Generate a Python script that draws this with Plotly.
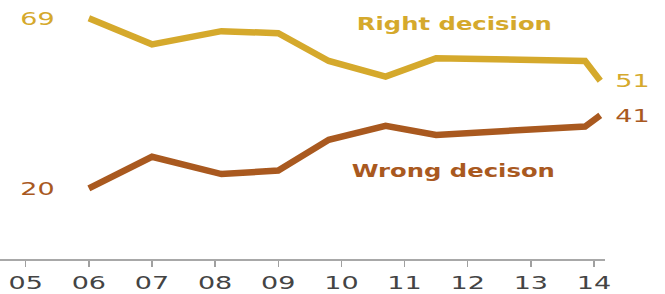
import plotly.graph_objects as go

# Survey dates (decimal years) and shares (%)
dates = [2006.0, 2007.0, 2008.1, 2009.0, 2009.8, 2010.7, 2011.5, 2013.86, 2014.1]
right_decision = [69, 61.5, 65.3, 64.7, 56.7, 52.2, 57.5, 56.7, 51]
wrong_decision = [20, 29.1, 24.1, 25.1, 34, 38, 35.4, 37.8, 41]
tick_years = [2005, 2006, 2007, 2008, 2009, 2010, 2011, 2012, 2013, 2014]
tick_labels = ["05", "06", "07", "08", "09", "10", "11", "12", "13", "14"]

GOLD = "#D5A92C"
BROWN = "#A9591F"
FONT = "DejaVu Sans"

fig = go.Figure()
fig.add_trace(go.Scatter(x=dates, y=right_decision, mode="lines",
                         line=dict(color=GOLD, width=6.5), hoverinfo="skip"))
fig.add_trace(go.Scatter(x=dates, y=wrong_decision, mode="lines",
                         line=dict(color=BROWN, width=6.5), hoverinfo="skip"))

anns = [
    dict(x=dates[0], y=right_decision[0], text=str(right_decision[0]),
         xshift=-51, font=dict(color=GOLD, size=18, family=FONT)),
    dict(x=dates[0], y=wrong_decision[0], text=str(wrong_decision[0]),
         xshift=-51, font=dict(color=BROWN, size=18, family=FONT)),
    dict(x=dates[-1], y=right_decision[-1], text=str(right_decision[-1]),
         xshift=32, font=dict(color=GOLD, size=18, family=FONT)),
    dict(x=dates[-1], y=wrong_decision[-1], text=str(wrong_decision[-1]),
         xshift=32, font=dict(color=BROWN, size=18, family=FONT)),
    dict(x=2011.787, y=67.6, text="<b>Right decision</b>",
         font=dict(color=GOLD, size=18, family=FONT)),
    dict(x=2011.773, y=25.1, text="<b>Wrong decison</b>",
         font=dict(color=BROWN, size=18, family=FONT)),
]
for a in anns:
    a.update(xref="x", yref="y", showarrow=False, xanchor="center", yanchor="middle")
fig.update_layout(annotations=anns)

fig.update_layout(
    width=665, height=294,
    margin=dict(l=0, r=60, t=0, b=35),
    paper_bgcolor="white", plot_bgcolor="white",
    showlegend=False,
    hovermode=False,
    xaxis=dict(range=[2004.593, 2014.175], tickvals=tick_years, ticktext=tick_labels,
               showgrid=False, zeroline=False, showline=True, linecolor="#A8A8A8",
               linewidth=2, ticks="outside", ticklen=6, tickwidth=1.5, tickcolor="#A0A0A0",
               tickfont=dict(family=FONT, size=18, color="#444444")),
    yaxis=dict(range=[-0.38, 74.28], visible=False, showgrid=False, zeroline=False),
)

# Remove the page margin and widen the text horizontally like the reference typeface
post = """
document.body.style.margin = '0';
var gd = document.getElementById('{plot_id}');
function sx(el, s) {
  var b = el.getBBox();
  var cx = b.x + b.width / 2;
  var tr = el.getAttribute('transform') || '';
  el.setAttribute('transform', tr + ' translate(' + cx + ',0) scale(' + s + ',1) translate(' + (-cx) + ',0)');
}
gd.querySelectorAll('.xtick text').forEach(function (t) { sx(t, 1.5); });
gd.querySelectorAll('.annotation-text').forEach(function (t) {
  sx(t, /^[0-9]+$/.test(t.textContent.trim()) ? 1.5 : 1.35);
});
"""

fig.write_html("out.html", post_script=post,
               config={"displayModeBar": False, "staticPlot": True})
